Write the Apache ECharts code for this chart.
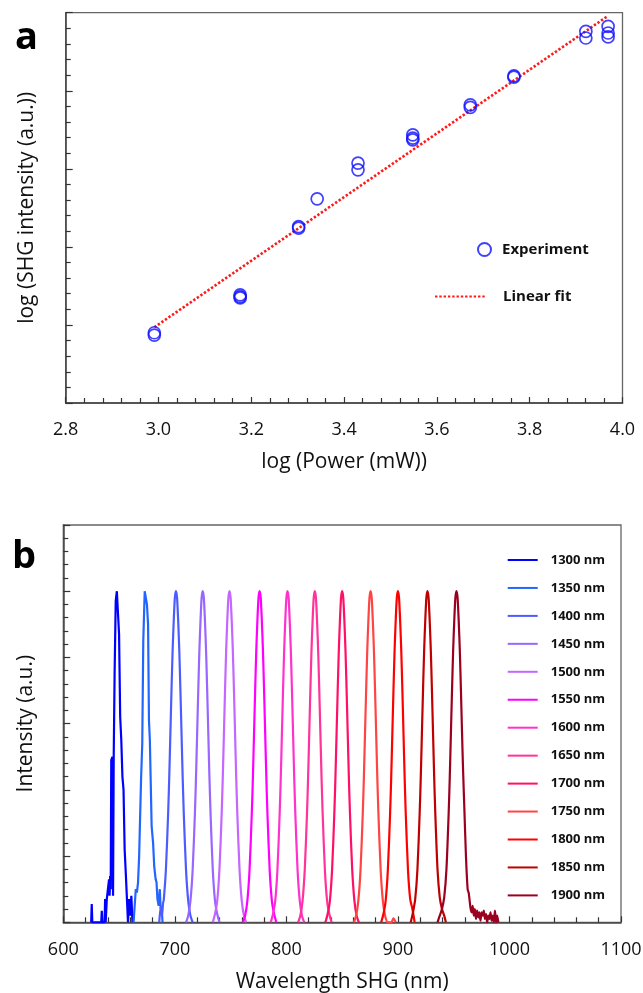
<!DOCTYPE html>
<html lang="en">
<head>
<meta charset="UTF-8">
<title>SHG power and wavelength</title>
<script src="https://cdn.jsdelivr.net/npm/echarts@6/dist/echarts.min.js"></script>
<style>
  html, body { margin: 0; padding: 0; background: #fff; }
  #main { width: 643px; height: 993px; }
</style>
</head>
<body>
<div id="main"></div>
<script type="text/javascript">
// panel a: log(SHG) vs log(power)
var powerX = [2.991, 2.991, 3.176, 3.176, 3.176, 3.302, 3.302, 3.342, 3.430, 3.430, 3.548, 3.548, 3.548,
              3.672, 3.672, 3.766, 3.766, 3.921, 3.921, 3.969, 3.969, 3.969];
var shgY = [0.87, 0.90, 1.385, 1.363, 1.346, 2.26, 2.24, 2.615, 3.073, 2.987, 3.436, 3.394, 3.372,
            3.82, 3.786, 4.19, 4.175, 4.76, 4.676, 4.824, 4.74, 4.69];
var fitX = [2.991, 3.969];
var fitY = [0.97, 4.96];
var powerTicks = [2.8, 3.0, 3.2, 3.4, 3.6, 3.8, 4.0];

// panel b: SHG spectra, [wavelength nm, normalised intensity]
var specNames = ['1300 nm', '1350 nm', '1400 nm', '1450 nm', '1500 nm', '1550 nm', '1600 nm',
                 '1650 nm', '1700 nm', '1750 nm', '1800 nm', '1850 nm', '1900 nm'];
var s1300 = [[625,0],[625.5,0.055],[626,0],[634,0],[634.5,0.035],[635,0],[637,0],[637.5,0.07],[638,0.0],
  [639,0.07],[640,0.10],[641,0.13],[641.5,0.08],[642,0.14],[642.5,0.1],[643,0.49],[644,0.5],[644.6,0.08],
  [645.2,0.5],[646,0.75],[647,0.97],[648,1.0],[649,1.0],[650,0.87],[651,0.62],[652,0.55],[653,0.44],
  [654,0.4],[655,0.22],[656,0.15],[657,0.15],[658,0.0],[659,0.07],[660,0.02],[661,0.08],[662,0]];
var s1350 = [[663,0],[664,0.05],[665,0.1],[666,0.09],[667,0.12],[668,0.2],[669,0.2],[669.7,0.43],
  [670.8,0.54],[671.7,0.85],[673,1.0],[674,1.0],[675,0.96],[676,0.9],[676.8,0.61],[677.6,0.55],
  [679.2,0.29],[680.5,0.24],[681.5,0.17],[682.8,0.13],[683.6,0.12],[684.4,0.07],[685.5,0.05],
  [686.5,0.1],[687.3,0.04],[688,0.05],[689,0]];
var s1400 = [[686,0],[687.5,0.05],[688.5,0.02],[689.5,0.06],[690,0.065],[692,0.16],[694,0.33],[695,0.44],
  [696,0.57],[697,0.70],[698,0.82],[699,0.91],[700,0.98],[701,1.0],[702,0.98],[703,0.91],[704,0.82],
  [705,0.70],[706,0.57],[707,0.44],[708,0.33],[710,0.16],[712,0.065],[714,0.02],[716,0]];
var s1450 = [[710,0],[712,0.02],[714,0.065],[716,0.16],[718,0.33],[719,0.44],[720,0.57],[721,0.70],
  [722,0.82],[723,0.91],[724,0.98],[725,1.0],[726,0.98],[727,0.91],[728,0.82],[729,0.70],[730,0.57],
  [731,0.44],[732,0.33],[734,0.16],[736,0.065],[738,0.025],[740,0]];
var s1500 = [[734,0],[736,0.025],[738,0.065],[740,0.16],[742,0.33],[743,0.44],[744,0.57],[745,0.70],
  [746,0.82],[747,0.91],[748,0.98],[749,1.0],[750,0.98],[751,0.91],[752,0.82],[753,0.70],[754,0.57],
  [755,0.44],[756,0.33],[758,0.16],[760,0.065],[762,0.02],[764,0]];
var s1550 = [[761,0],[763,0.02],[765,0.065],[767,0.16],[769,0.33],[770,0.44],[771,0.57],[772,0.70],
  [773,0.82],[774,0.91],[775,0.98],[776,1.0],[777,0.98],[778,0.91],[779,0.82],[780,0.70],[781,0.57],
  [782,0.44],[783,0.33],[785,0.16],[787,0.065],[789,0.025],[791,0]];
var s1600 = [[786,0],[788,0.025],[790,0.065],[792,0.16],[794,0.33],[795,0.44],[796,0.57],[797,0.70],
  [798,0.82],[799,0.91],[800,0.98],[801,1.0],[802,0.98],[803,0.91],[804,0.82],[805,0.70],[806,0.57],
  [807,0.44],[808,0.33],[810,0.16],[812,0.065],[814,0.02],[816,0]];
var s1650 = [[810.5,0],[812.5,0.02],[814.5,0.065],[816.5,0.16],[818.5,0.33],[819.5,0.44],[820.5,0.57],
  [821.5,0.70],[822.5,0.82],[823.5,0.91],[824.5,0.98],[825.5,1.0],[826.5,0.98],[827.5,0.91],[828.5,0.82],
  [829.5,0.70],[830.5,0.57],[831.5,0.44],[832.5,0.33],[834.5,0.16],[836.5,0.065],[838.5,0.025],[840.5,0]];
var s1700 = [[835,0],[837,0.025],[839,0.065],[841,0.16],[843,0.33],[844,0.44],[845,0.57],[846,0.70],
  [847,0.82],[848,0.91],[849,0.98],[850,1.0],[851,0.98],[852,0.91],[853,0.82],[854,0.70],[855,0.57],
  [856,0.44],[857,0.33],[859,0.16],[861,0.065],[863,0.02],[865,0]];
var s1750 = [[860.5,0],[862.5,0.02],[864.5,0.065],[866.5,0.16],[868.5,0.33],[869.5,0.44],[870.5,0.57],
  [871.5,0.70],[872.5,0.82],[873.5,0.91],[874.5,0.98],[875.5,1.0],[876.5,0.98],[877.5,0.91],[878.5,0.82],
  [879.5,0.70],[880.5,0.57],[881.5,0.44],[882.5,0.33],[884.5,0.16],[886.5,0.065],[888.5,0.02],
  [891,0.0],[894,0.0],[896,0.012],[898,0.0]];
var s1800 = [[885,0],[887,0.025],[889,0.065],[891,0.16],[893,0.33],[894,0.44],[895,0.57],[896,0.70],
  [897,0.82],[898,0.91],[899,0.98],[900,1.0],[901,0.98],[902,0.91],[903,0.82],[904,0.70],[905,0.57],
  [906,0.44],[907,0.33],[909,0.16],[911,0.07],[913,0.04],[915,0]];
var s1850 = [[911.5,0],[913.5,0.03],[915.5,0.07],[917.5,0.16],[919.5,0.33],[920.5,0.44],[921.5,0.57],
  [922.5,0.70],[923.5,0.82],[924.5,0.91],[925.5,0.98],[926.5,1.0],[927.5,0.98],[928.5,0.91],[929.5,0.82],
  [930.5,0.70],[931.5,0.57],[932.5,0.44],[933.5,0.33],[935.5,0.16],[937.5,0.075],[939.5,0.04],
  [941.5,0.02],[943,0]];
var s1900 = [[935.5,0],[937.5,0.02],[939.5,0.04],[941.5,0.075],[943.5,0.16],[945.5,0.33],[946.5,0.44],
  [947.5,0.57],[948.5,0.70],[949.5,0.82],[950.5,0.91],[951.5,0.98],[952.5,1.0],[953.5,0.98],[954.5,0.91],
  [955.5,0.82],[956.5,0.70],[957.5,0.57],[958.5,0.45],[959.5,0.35],[961,0.2],[962.5,0.1],[963.5,0.088],
  [965,0.045],[966,0.03],[967,0.05],[968,0.02],[969,0.04],[970,0.01],[971,0.035],[972,0.015],
  [973,0.03],[974,0.005],[975,0.03],[976,0.02],[977,0.035],[978,0.01],[979,0.025],[980,0.0],
  [981,0.02],[982,0.01],[983,0.03],[984,0.005],[985,0.02],[986,0.0],[987,0.035],[988,0.0],
  [989,0.02],[990,0.0]];
var specData = [s1300, s1350, s1400, s1450, s1500, s1550, s1600, s1650, s1700, s1750, s1800, s1850, s1900];
var specColors = ['#0000ff', '#2266ff', '#4d5cff', '#9966ff', '#c466ff', '#ff00ff', '#ff33cc',
                  '#ff3399', '#ff0f66', '#ff4444', '#ff0000', '#c00000', '#9c0020'];
var wavelengthTicks = [600, 700, 800, 900, 1000, 1100];

var chart = echarts.init(document.getElementById('main'));

var specSeries = specData.map(function (d, i) {
    return {
        name: specNames[i],
        type: 'line',
        xAxisIndex: 1,
        yAxisIndex: 1,
        data: d,
        symbol: 'none',
        smooth: (i < 2) ? false : 0.25,
        lineStyle: { color: specColors[i], width: 2.2 },
        itemStyle: { color: 'rgba(0,0,0,0)' },
        z: 3
    };
});

var tickStyle = { color: '#333', width: 1.2 };
var legendText = { fontSize: 15, fontWeight: 'bold', color: '#111' };

var option = {
    animation: false,
    backgroundColor: '#fff',
    textStyle: { fontFamily: 'Open Sans' },
    title: [
        { text: 'a', left: 10, top: 14, textStyle: { fontSize: 38, fontWeight: 'bold', color: '#000' } },
        { text: 'b', left: 7, top: 533, textStyle: { fontSize: 38, fontWeight: 'bold', color: '#000' } }
    ],
    grid: [
        { left: 65.7, top: 12.7, width: 556.8, height: 390.3, show: true, borderColor: '#666', borderWidth: 1.3, outerBoundsMode: 'none' },
        { left: 63.3, top: 525, width: 557.7, height: 397.3, show: true, borderColor: '#666', borderWidth: 1.3, outerBoundsMode: 'none' }
    ],
    legend: [
        {
            data: ['Experiment'], left: 472, top: 237, itemWidth: 13, itemHeight: 13, selectedMode: false,
            textStyle: Object.assign({ padding: [0, 0, 0, 6] }, legendText)
        },
        {
            data: ['Linear fit'], left: 429, top: 284, itemWidth: 50, itemHeight: 14, selectedMode: false,
            itemStyle: { opacity: 0 },
            textStyle: Object.assign({ padding: [0, 0, 0, 13] }, legendText)
        },
        {
            data: specNames, orient: 'vertical', left: 501.7, top: 548.5, itemWidth: 30, itemHeight: 14,
            itemGap: 14.95, selectedMode: false,
            itemStyle: { opacity: 0 },
            textStyle: { fontSize: 13, fontWeight: 'bold', color: '#111', padding: [0, 0, 0, 8] }
        }
    ],
    xAxis: [
        {
            gridIndex: 0, type: 'value', min: powerTicks[0], max: powerTicks[powerTicks.length - 1], interval: 0.2,
            name: 'log (Power (mW))', nameLocation: 'middle', nameGap: 49,
            nameTextStyle: { fontSize: 21, color: '#111' },
            axisLine: { lineStyle: { color: '#444', width: 1.5 } },
            axisTick: { inside: true, length: 6, lineStyle: tickStyle },
            minorTick: { show: true, splitNumber: 5, length: 5, lineStyle: tickStyle },
            axisLabel: { fontSize: 18, color: '#111', margin: 18, formatter: function (v) { return v.toFixed(1); } },
            splitLine: { show: false }
        },
        {
            gridIndex: 1, type: 'value', min: wavelengthTicks[0], max: wavelengthTicks[wavelengthTicks.length - 1], interval: 100,
            name: 'Wavelength SHG (nm)', nameLocation: 'middle', nameGap: 49,
            nameTextStyle: { fontSize: 21, color: '#111' },
            axisLine: { lineStyle: { color: '#444', width: 1.5 } },
            axisTick: { inside: true, length: 6, lineStyle: tickStyle },
            minorTick: { show: true, splitNumber: 5, length: 5, lineStyle: tickStyle },
            axisLabel: { fontSize: 18, color: '#111', margin: 19, formatter: function (v) { return String(v); } },
            splitLine: { show: false }
        }
    ],
    yAxis: [
        {
            gridIndex: 0, type: 'value', min: 0, max: 5, interval: 1,
            name: 'log (SHG intensity (a.u.))', nameLocation: 'middle', nameGap: 28, nameRotate: 90,
            nameTextStyle: { fontSize: 21, color: '#111' },
            axisLine: { show: true, lineStyle: { color: '#444', width: 1.5 } },
            axisTick: { show: true, inside: true, length: 7, lineStyle: tickStyle },
            minorTick: { show: true, splitNumber: 5, length: 5, lineStyle: tickStyle },
            axisLabel: { show: false },
            splitLine: { show: false }
        },
        {
            gridIndex: 1, type: 'value', min: 0, max: 1.2, interval: 0.2,
            name: 'Intensity (a.u.)', nameLocation: 'middle', nameGap: 27, nameRotate: 90,
            nameTextStyle: { fontSize: 21, color: '#111' },
            axisLine: { show: true, lineStyle: { color: '#444', width: 1.5 } },
            axisTick: { show: true, inside: true, length: 7, lineStyle: tickStyle },
            minorTick: { show: true, splitNumber: 5, length: 5, lineStyle: tickStyle },
            axisLabel: { show: false },
            splitLine: { show: false }
        }
    ],
    series: [
        {
            name: 'Experiment',
            type: 'scatter',
            xAxisIndex: 0,
            yAxisIndex: 0,
            data: powerX.map(function (x, i) { return [x, shgY[i]]; }),
            symbol: 'circle',
            symbolSize: 12,
            itemStyle: { color: 'rgba(0,0,0,0)', borderColor: '#1010ff', borderWidth: 1.7 },
            z: 4
        },
        {
            name: 'Linear fit',
            type: 'line',
            xAxisIndex: 0,
            yAxisIndex: 0,
            data: fitX.map(function (x, i) { return [x, fitY[i]]; }),
            symbol: 'none',
            lineStyle: { color: '#ff1a1a', width: 2.6, type: [2.4, 1.9], cap: 'butt' },
            itemStyle: { color: 'rgba(0,0,0,0)' },
            z: 3
        }
    ].concat(specSeries)
};

chart.setOption(option);
</script>
</body>
</html>
